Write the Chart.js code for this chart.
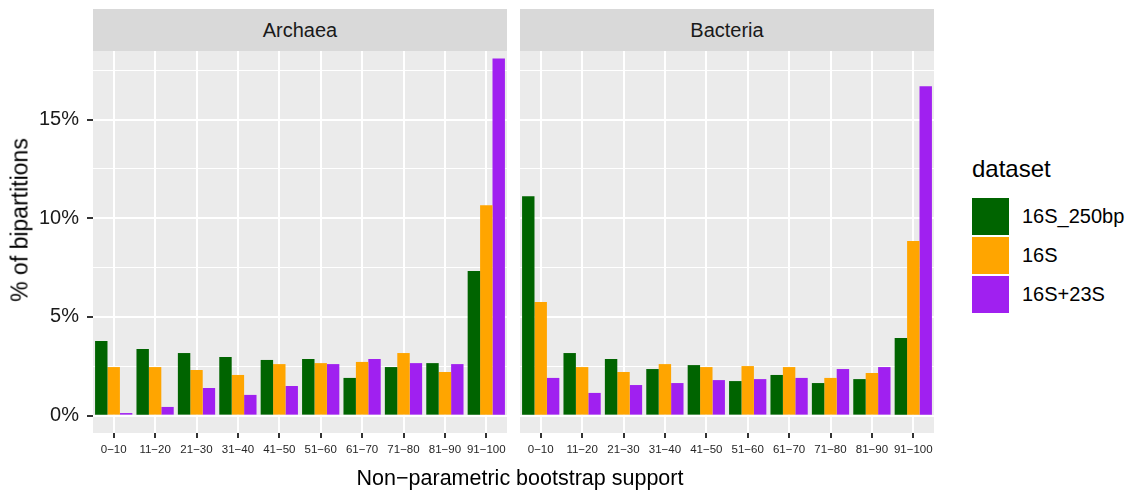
<!DOCTYPE html>
<html>
<head>
<meta charset="utf-8">
<script src="https://cdn.jsdelivr.net/npm/chart.js@4"></script>
<style>
  body { margin: 0; background: #fff; font-family: "Liberation Sans", Arial, sans-serif; }
  #wrap { position: relative; width: 1132px; height: 490px; overflow: hidden; }
  canvas { position: absolute; }
  .strip { position: absolute; top: 9px; height: 42px; width: 414px; background: #D9D9D9;
           color: #1A1A1A; font-size: 20px; line-height: 42px; text-align: center; }
  .ytitle { position: absolute; left: 20px; top: 220px; transform: translate(-50%, -50%) rotate(-90deg);
            font-size: 23px; white-space: nowrap; color: #000; }
  .xtitle { position: absolute; left: 520px; top: 478px; transform: translate(-50%, -50%);
            font-size: 21.5px; white-space: nowrap; color: #000; }
  .legend { position: absolute; left: 972px; top: 155px; }
  .legend .title { font-size: 24px; margin-bottom: 14px; }
  .legend .row { display: flex; align-items: center; height: 39px; }
  .legend .key { width: 37px; height: 37px; margin-right: 13px; }
  .legend .lab { font-size: 20px; }
</style>
</head>
<body>
<div id="wrap">
  <div class="strip" style="left:93px">Archaea</div>
  <div class="strip" style="left:520px">Bacteria</div>
  <canvas id="archaeaChart" width="510" height="439" style="left:0;top:51px"></canvas>
  <canvas id="bacteriaChart" width="420" height="439" style="left:517px;top:51px"></canvas>
  <div class="ytitle">% of bipartitions</div>
  <div class="xtitle">Non−parametric bootstrap support</div>
  <div class="legend" id="legend"><div class="title">dataset</div></div>
</div>
<script>
const categories = ['0−10', '11−20', '21−30', '31−40', '41−50', '51−60', '61−70', '71−80', '81−90', '91−100'];
const seriesNames = ['16S_250bp', '16S', '16S+23S'];
const seriesColors = ['#006400', '#FFA500', '#A020F0'];

const archaea250bp = [3.78, 3.37, 3.17, 2.97, 2.82, 2.87, 1.91, 2.46, 2.66, 7.32];
const archaea16S = [2.46, 2.46, 2.31, 2.06, 2.61, 2.66, 2.72, 3.17, 2.21, 10.66];
const archaea16S23S = [0.13, 0.44, 1.40, 1.05, 1.50, 2.61, 2.87, 2.66, 2.61, 18.09];

const bacteria250bp = [11.11, 3.17, 2.87, 2.36, 2.56, 1.75, 2.06, 1.65, 1.85, 3.93];
const bacteria16S = [5.75, 2.46, 2.21, 2.61, 2.46, 2.51, 2.46, 1.91, 2.16, 8.84];
const bacteria16S23S = [1.91, 1.15, 1.55, 1.65, 1.80, 1.85, 1.91, 2.36, 2.46, 16.68];

const yMajorTicks = [0, 5, 10, 15];
const yMinorTicks = [2.5, 7.5, 12.5, 17.5];

// fundo cinza do painel
const panelBg = {
  id: 'panelBg',
  beforeDraw(chart) {
    const { ctx, chartArea } = chart;
    ctx.save();
    ctx.fillStyle = '#EBEBEB';
    ctx.fillRect(chartArea.left, chartArea.top, chartArea.right - chartArea.left, chartArea.bottom - chartArea.top);
    ctx.restore();
  }
};

const isMajor = (v) => yMajorTicks.includes(v);

const makePanel = (canvasId, values, showY, padding) => {
  const ctx = document.getElementById(canvasId).getContext('2d');
  return new Chart(ctx, {
    type: 'bar',
    data: {
      labels: categories,
      datasets: seriesNames.map((name, i) => ({
        label: name,
        data: values[i],
        backgroundColor: seriesColors[i],
        borderWidth: 0,
        categoryPercentage: 0.9,
        barPercentage: 1.0
      }))
    },
    options: {
      responsive: false,
      animation: false,
      layout: { padding: padding },
      plugins: { legend: { display: false }, tooltip: { enabled: false } },
      scales: {
        x: {
          offset: true,
          border: { display: false },
          grid: {
            offset: false,
            color: '#FFFFFF',
            lineWidth: 2,
            tickLength: 5,
            tickColor: '#333333',
            tickWidth: 2
          },
          ticks: {
            color: '#262626',
            font: { family: 'Liberation Sans', size: 11.5 },
            padding: 5,
            maxRotation: 0,
            autoSkip: false
          },
          afterFit: (scale) => {
            scale.height = 57;
            scale.paddingLeft = 0;
            scale.paddingRight = 0;
          }
        },
        y: {
          min: -0.88,
          max: 18.47,
          border: { display: false },
          afterBuildTicks: (scale) => {
            scale.ticks = yMajorTicks.concat(yMinorTicks).sort((a, b) => a - b).map(v => ({ value: v }));
          },
          grid: {
            color: '#FFFFFF',
            lineWidth: (c) => (c.tick && isMajor(c.tick.value) ? 2 : 1),
            drawTicks: showY,
            tickLength: 6,
            tickColor: (c) => (c.tick && isMajor(c.tick.value) ? '#333333' : 'rgba(0,0,0,0)'),
            tickWidth: 2
          },
          ticks: {
            display: showY,
            color: '#1A1A1A',
            font: { family: 'Liberation Sans', size: 20 },
            padding: 8,
            callback: (v) => (isMajor(v) ? v + '%' : '')
          },
          afterFit: (scale) => {
            scale.width = showY ? 93 : 0;
            scale.paddingTop = 0;
            scale.paddingBottom = 0;
          }
        }
      }
    },
    plugins: [panelBg]
  });
};

makePanel('archaeaChart', [archaea250bp, archaea16S, archaea16S23S], true, { left: 0, right: 3, top: 0, bottom: 0 });
makePanel('bacteriaChart', [bacteria250bp, bacteria16S, bacteria16S23S], false, { left: 3, right: 3, top: 0, bottom: 0 });

// legenda
const legend = document.getElementById('legend');
seriesNames.forEach((name, i) => {
  const row = document.createElement('div');
  row.className = 'row';
  row.innerHTML = `<div class="key" style="background:${seriesColors[i]}"></div><div class="lab">${name}</div>`;
  legend.appendChild(row);
});
</script>
</body>
</html>
